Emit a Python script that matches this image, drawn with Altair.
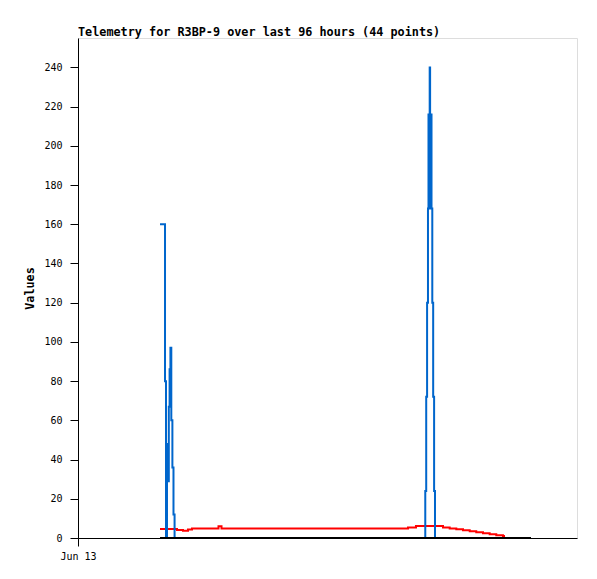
import altair as alt
import pandas as pd

# hours since Jun 13 00:00
blue_hours = [15.78, 16.74, 16.93, 17.12, 17.32, 17.47, 17.62, 17.78, 17.95, 18.16, 18.37, 18.58,
              66.81, 66.99, 67.16, 67.33, 67.43, 67.53, 67.60, 67.66, 67.74, 67.83, 67.91, 68.01,
              68.16, 68.33, 68.51, 68.68]
blue_values = [160, 80, 0, 48, 29, 67, 86, 97, 60, 36, 12, 0,
               24, 72, 120, 168, 216, 168, 216, 240, 216, 168, 216, 168,
               120, 72, 24, 0]

red_hours = [15.78, 19.05, 20.20, 21.16, 21.93, 27.03, 27.61, 63.49, 65.02, 70.22, 71.51,
             72.78, 74.07, 75.36, 76.62, 77.91, 79.20, 80.47, 81.76, 82.15]
red_values = [4.6, 4.1, 3.7, 4.3, 4.9, 6.0, 4.8, 5.4, 6.1, 5.4, 4.9,
              4.4, 3.9, 3.4, 2.9, 2.4, 1.9, 1.4, 1.0, 1.0]

black_hours = [15.78, 87.15]
black_values = [0, 0]

x_ticks = [0]
x_tick_label = "Jun 13"
y_ticks = list(range(0, 241, 20))

title_text = "Telemetry for R3BP-9 over last 96 hours (44 points)"
FONT = "DejaVu Sans Mono"

blue_df = pd.DataFrame({"h": blue_hours, "v": blue_values})
red_df = pd.DataFrame({"h": red_hours, "v": red_values})
black_df = pd.DataFrame({"h": black_hours, "v": black_values})

xs = alt.Scale(domain=[0, 96], nice=False, zero=False)
ys = alt.Scale(domain=[0, 255], nice=False)

xenc = alt.X("h:Q", scale=xs, title=None,
             axis=alt.Axis(values=x_ticks, labelExpr=f"'{x_tick_label}'", grid=False,
                           labelFlush=False,
                           tickSize=8, labelPadding=5, labelFont=FONT, labelFontSize=10,
                           labelColor="black", domainColor="black", tickColor="black"))
yenc = alt.Y("v:Q", scale=ys, title="Values",
             axis=alt.Axis(values=y_ticks, grid=False, tickSize=8, labelPadding=8,
                           labelFont=FONT, labelFontSize=10, labelColor="black",
                           domainColor="black", tickColor="black",
                           titleFont=FONT, titleFontSize=11.8, titleFontWeight="bold",
                           titleColor="black", titlePadding=8))

red = alt.Chart(red_df).mark_line(color="#FF0000", strokeWidth=2, interpolate="step-after").encode(x=xenc, y=yenc)
blue = alt.Chart(blue_df).mark_line(color="#0066CC", strokeWidth=2, interpolate="step-after").encode(x=xenc, y=yenc)
black = alt.Chart(black_df).mark_line(color="black", strokeWidth=2).encode(x=xenc, y=yenc)

chart = alt.layer(red, blue, black).properties(
    width=499, height=500,
    title=alt.TitleParams(title_text, anchor="start", frame="group", font=FONT, fontSize=11.8,
                          fontWeight="bold", color="black", offset=-1),
    autosize=alt.AutoSizeParams(type="none"),
    padding={"left": 70, "top": 30, "right": 12, "bottom": 33},
).configure_view(stroke="black", strokeWidth=1).configure(background="white")

chart.save("out.html", embed_options={"renderer": "svg", "actions": False})
